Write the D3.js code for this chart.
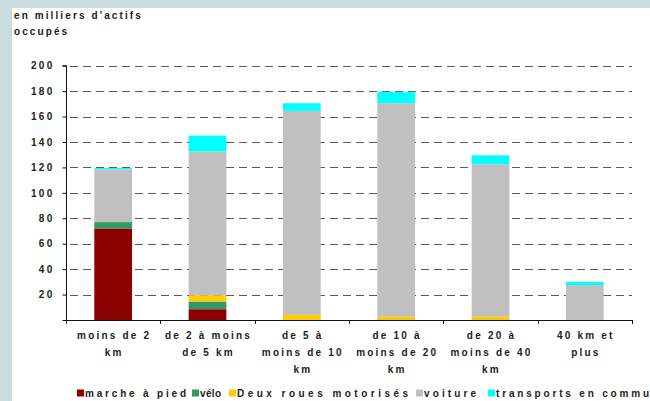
<!DOCTYPE html>
<html>
<head>
<meta charset="utf-8">
<script src="https://cdn.jsdelivr.net/npm/d3@7/dist/d3.min.js"></script>
<style>
  html, body { margin: 0; padding: 0; background: #c9dde1; }
  svg { display: block; }
  text { font-family: "Liberation Sans", Arial, sans-serif; font-weight: bold; fill: #222; }
</style>
</head>
<body>
<svg id="chart" width="650" height="401"></svg>
<script>
// Distance domicile-travail (catégories) et modes de transport
const categories = [
  ["moins de 2", "km"],
  ["de 2 à moins", "de 5 km"],
  ["de 5 à", "moins de 10", "km"],
  ["de 10 à", "moins de 20", "km"],
  ["de 20 à", "moins de 40", "km"],
  ["40 km  et", "plus"]
];
const modes = ["marche à pied", "vélo", "Deux roues motorisés", "voiture", "transports en commun"];
const colors = ["#8b0000", "#339966", "#ffcc00", "#c0c0c0", "#00ffff"];

// en milliers d'actifs occupés
const marche     = [72, 8.5, 0, 0, 0, 0];
const velo       = [5, 6, 0, 0, 0, 0];
const deuxRoues  = [0, 5, 4, 2.5, 2.5, 0];
const voiture    = [41.5, 113, 160.5, 168, 120, 27.5];
const transports = [1, 12.5, 6, 9, 7, 2.5];

const yTicks = [0, 20, 40, 60, 80, 100, 120, 140, 160, 180, 200];
const yTitle = ["en milliers d'actifs", "occupés"];

const series = [marche, velo, deuxRoues, voiture, transports];
const rows = categories.map((c, i) => {
  const r = { key: i };
  modes.forEach((m, j) => { r[m] = series[j][i]; });
  return r;
});

const svg = d3.select("#chart");

// white panel
svg.append("rect").attr("x", 12).attr("y", 8).attr("width", 650).attr("height", 401).attr("fill", "#ffffff");

const x0 = 66, x1 = 632, yBottom = 320, yTop = 65.7;
const x = d3.scaleBand().domain(d3.range(categories.length)).range([x0, x1]).paddingInner(0.6).paddingOuter(0.3);
const y = d3.scaleLinear().domain([0, 200]).range([yBottom, yTop]);
const step = x.step();

// dashed gridlines
svg.append("g").selectAll("line").data(yTicks.filter(d => d > 0)).join("line")
  .attr("x1", x0).attr("x2", x1)
  .attr("y1", d => Math.round(y(d)) + 0.5).attr("y2", d => Math.round(y(d)) + 0.5)
  .attr("stroke", "#5a5a5a").attr("stroke-width", 1)
  .attr("stroke-dasharray", "8,5").attr("stroke-dashoffset", -4);

// stacked bars
const stacked = d3.stack().keys(modes)(rows);
svg.append("g").selectAll("g").data(stacked).join("g")
  .attr("fill", (d, i) => colors[i])
  .selectAll("rect").data(d => d).join("rect")
  .attr("x", (d, i) => x(i))
  .attr("width", x.bandwidth())
  .attr("y", d => y(d[1]))
  .attr("height", d => Math.max(0, y(d[0]) - y(d[1])));

// y axis
const yAxis = d3.axisLeft(y).tickValues(yTicks).tickSize(4).tickPadding(8)
  .tickFormat(d => d === 0 ? "" : d);
const gy = svg.append("g").attr("transform", `translate(${x0 + 0.5},0)`).call(yAxis);
gy.select(".domain").attr("stroke", "#111").attr("d", `M-4,${yTop}H0V${yBottom + 4}`);
gy.selectAll(".tick line").attr("stroke", "#111");
gy.selectAll(".tick text")
  .style("font-family", "'Liberation Sans', Arial, sans-serif")
  .style("font-weight", "bold").style("font-size", "10px")
  .style("letter-spacing", "2.3px").attr("fill", "#222");

// x axis with ticks at category boundaries
const gx = svg.append("g");
gx.append("line").attr("x1", x0).attr("x2", x1 + 1).attr("y1", yBottom + 0.5).attr("y2", yBottom + 0.5)
  .attr("stroke", "#111");
const bounds = d3.range(categories.length + 1).map(i => i === categories.length ? x1 : x(i) - step * x.paddingInner() / 2);
gx.selectAll("line.tk").data(bounds).join("line").attr("class", "tk")
  .attr("x1", d => Math.round(d) + 0.5).attr("x2", d => Math.round(d) + 0.5)
  .attr("y1", yBottom).attr("y2", yBottom + 4).attr("stroke", "#111");

// category labels
const lbl = gx.selectAll("text.cat").data(categories).join("text").attr("class", "cat")
  .attr("text-anchor", "middle").style("font-size", "10px").style("letter-spacing", "2.2px")
  .attr("transform", (d, i) => `translate(${x(i) + x.bandwidth() / 2 + 1},339)`);
lbl.selectAll("tspan").data(d => d).join("tspan")
  .attr("x", 0).attr("y", (d, i) => i * 17).text(d => d);

// y axis title
svg.append("g").selectAll("text").data(yTitle).join("text")
  .attr("x", 14).attr("y", (d, i) => 19 + i * 16)
  .style("font-size", "10px").style("letter-spacing", "2.1px").text(d => d);

// legend: swatch position and stretched text width of each entry
const legendLayout = [
  { x: 77,  w: 101 },
  { x: 192, w: 21 },
  { x: 229, w: 171 },
  { x: 416, w: 52 },
  { x: 488, w: 162 }
];
const leg = svg.append("g").attr("transform", "translate(0,397)");
modes.forEach((m, i) => {
  const L = legendLayout[i];
  leg.append("rect").attr("x", L.x).attr("y", -7.5).attr("width", 7).attr("height", 7).attr("fill", colors[i]);
  leg.append("text").attr("x", L.x + 8).attr("y", 0)
    .attr("textLength", L.w).attr("lengthAdjust", "spacing")
    .style("font-size", "10px").text(m);
});
</script>
</body>
</html>
